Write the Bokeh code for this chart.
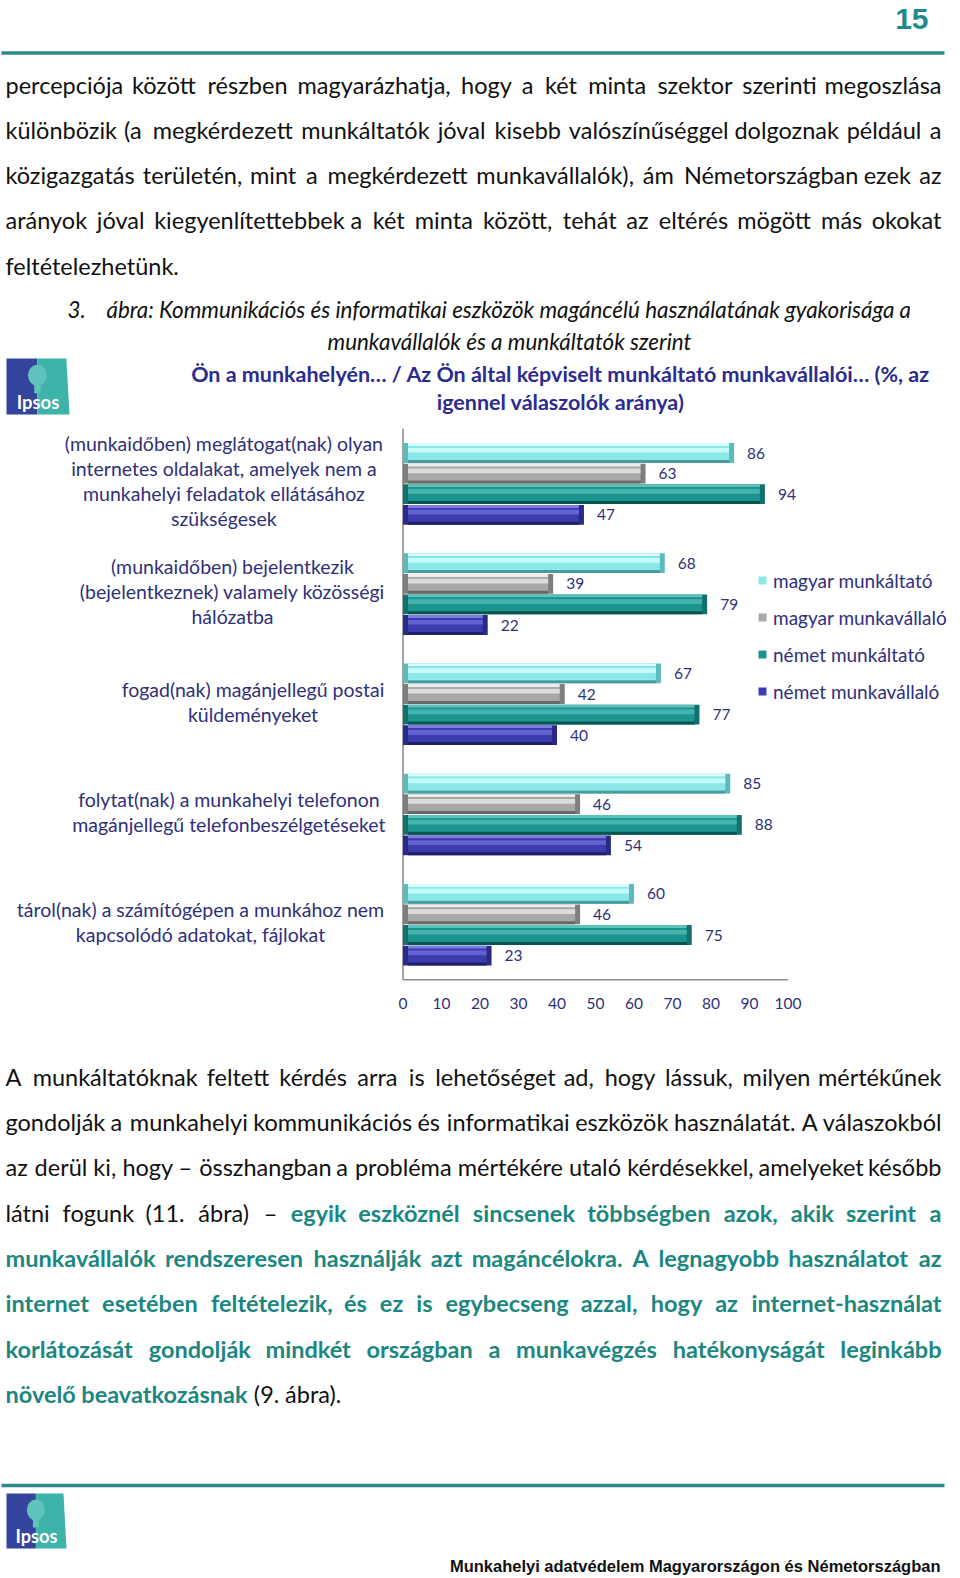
import unicodedata
from bokeh.plotting import figure
from bokeh.models import (Range1d, ColumnDataSource, LabelSet, Legend, LegendItem, FixedTicker)
from bokeh.layouts import column
from bokeh.core.properties import value
from bokeh.embed import file_html
from bokeh.resources import INLINE

# ------------------------------------------------------------------ data
series_names = ["magyar munkáltató", "magyar munkavállaló", "német munkáltató", "német munkavállaló"]
category_lines = [
    ["(munkaidőben) meglátogat(nak) olyan", "internetes oldalakat, amelyek nem a",
     "munkahelyi feladatok ellátásához", "szükségesek"],
    ["(munkaidőben) bejelentkezik", "(bejelentkeznek) valamely közösségi", "hálózatba"],
    ["fogad(nak) magánjellegű postai", "küldeményeket"],
    ["folytat(nak) a munkahelyi telefonon", "magánjellegű telefonbeszélgetéseket"],
    ["tárol(nak) a számítógépen a munkához nem", "kapcsolódó adatokat, fájlokat"],
]
categories = [" ".join(l) for l in category_lines]
hu_employer = [86, 68, 67, 85, 60]
hu_employee = [63, 39, 42, 46, 46]
de_employer = [94, 79, 77, 88, 75]
de_employee = [47, 22, 40, 54, 23]
series_values = [hu_employer, hu_employee, de_employer, de_employee]
x_ticks = [0, 10, 20, 30, 40, 50, 60, 70, 80, 90, 100]

page_number = "15"
para1 = [
    "percepciója között részben magyarázhatja, hogy a két minta szektor szerinti megoszlása",
    "különbözik (a megkérdezett munkáltatók jóval kisebb valószínűséggel dolgoznak például a",
    "közigazgatás területén, mint a megkérdezett munkavállalók), ám Németországban ezek az",
    "arányok jóval kiegyenlítettebbek a két minta között, tehát az eltérés mögött más okokat",
    "feltételezhetünk.",
]
caption_num = "3."
caption_1 = "ábra: Kommunikációs és informatikai eszközök magáncélú használatának gyakorisága a"
caption_2 = "munkavállalók és a munkáltatók szerint"
subtitle_1 = "Ön a munkahelyén… / Az Ön által képviselt munkáltató munkavállalói… (%, az"
subtitle_2 = "igennel válaszolók aránya)"
para2 = [
    [("n", "A munkáltatóknak feltett kérdés arra is lehetőséget ad, hogy lássuk, milyen mértékűnek")],
    [("n", "gondolják a munkahelyi kommunikációs és informatikai eszközök használatát. A válaszokból")],
    [("n", "az derül ki, hogy – összhangban a probléma mértékére utaló kérdésekkel, amelyeket később")],
    [("n", "látni fogunk (11. ábra) –"), ("t", "egyik eszköznél sincsenek többségben azok, akik szerint a")],
    [("t", "munkavállalók rendszeresen használják azt magáncélokra. A legnagyobb használatot az")],
    [("t", "internet esetében feltételezik, és ez is egybecseng azzal, hogy az internet-használat")],
    [("t", "korlátozását gondolják mindkét országban a munkavégzés hatékonyságát leginkább")],
    [("t", "növelő beavatkozásnak"), ("n", "(9. ábra).")],
]
footer_text = "Munkahelyi adatvédelem Magyarországon és Németországban"

# ------------------------------------------------------------------ style
FONT = "Lato"
NARROW = "Liberation Sans Narrow, Liberation Sans"
TEAL = "#1B8780"
TEAL_LINE = "#2A8A88"
NAVY_TXT = "#30307A"
SUB_BLUE = "#2B2B90"
W = 960
bar_cols = [  # end, top-facet, face, bottom-facet, stripe
    ("#5DBABA", "#D8FFFF", "#8CE8E8", "#4A9C9C", "#C4FAFA"),
    ("#7E7E7E", "#EDEDED", "#A8A8A8", "#686868", "#DCDCDC"),
    ("#12716D", "#5CC2BC", "#1C948F", "#0C5350", "#45B3AD"),
    ("#2A2A86", "#7C7CE2", "#3C3CAC", "#20206A", "#6262D2"),
]

_CW = {'a': .50, 'b': .55, 'c': .45, 'd': .55, 'e': .51, 'f': .32, 'g': .50, 'h': .55, 'i': .23,
       'j': .23, 'k': .49, 'l': .23, 'm': .83, 'n': .55, 'o': .55, 'p': .55, 'q': .55, 'r': .36,
       's': .42, 't': .35, 'u': .55, 'v': .49, 'w': .75, 'x': .48, 'y': .49, 'z': .44, ' ': .19,
       ',': .22, '.': .22, '(': .30, ')': .30, '–': .58, '-': .33, ':': .25, '/': .37, '%': .80}


def est(word, size, bold):
    t = 0.0
    for ch in word:
        b = unicodedata.normalize('NFD', ch)[0]
        if b.isdigit():
            w = .58
        elif b.isupper():
            w = {'I': .27, 'M': .85, 'A': .68}.get(b, .66)
        else:
            w = _CW.get(b, .5)
        t += w
    return t * size * (1.04 if bold else 1.0)


def new_text_fig(h, y_top):
    f = figure(width=W, height=h, x_range=Range1d(0, W), y_range=Range1d(y_top + h, y_top),
               output_backend="svg", toolbar_location=None, min_border=0, frame_align=False)
    f.axis.visible = False
    f.grid.visible = False
    f.outline_line_color = None
    return f


def draw_par(f, lines, left, right, y0, dy, size, styles, justify_last=False):
    buckets = {}
    for li, segs in enumerate(lines):
        y = y0 + li * dy
        words = [(st, w) for st, txt in segs for w in txt.split()]
        widths = [est(w, size, styles[st][1]) for st, w in words]
        n = len(words)
        justify = (li < len(lines) - 1) or justify_last
        gap = (right - left - sum(widths)) / (n - 1) if (justify and n > 1) else size * 0.23
        x = left
        for k, ((st, w), wd) in enumerate(zip(words, widths)):
            if justify and n > 1 and k == n - 1:
                key, xx = (st, "right"), right
            else:
                key, xx = (st, "left"), x
            b = buckets.setdefault(key, ([], [], []))
            b[0].append(xx); b[1].append(y); b[2].append(w)
            x += wd + gap
    for (st, al), (xs, ys, ts) in buckets.items():
        col, bold = styles[st]
        f.text(x=xs, y=ys, text=ts, text_font=value(FONT), text_font_size=f"{size}px",
               text_font_style="bold" if bold else "normal", text_color=col,
               text_align=al, text_baseline="middle")


def draw_logo(f, x0, y0, w, h):
    xm = x0 + w * 0.49
    f.quad(left=[x0], right=[xm], top=[y0], bottom=[y0 + h], fill_color="#34449C", line_color=None)
    f.patch(x=[xm, x0 + w * 0.95, x0 + w, xm], y=[y0, y0, y0 + h, y0 + h], fill_color="#3DB3AA",
            line_color=None)
    f.ellipse(x=[xm], y=[y0 + h * 0.3], width=w * 0.3, height=h * 0.38, fill_color="#5FC3BA",
              line_color=None)
    f.quad(left=[xm - w * 0.05], right=[xm + w * 0.05], top=[y0 + h * 0.4], bottom=[y0 + h * 0.62],
           fill_color="#5FC3BA", line_color=None)
    f.text(x=[x0 + w * 0.5], y=[y0 + h * 0.78], text=["Ipsos"], text_font=value(FONT),
           text_font_size=f"{h * 0.33:.1f}px", text_font_style="bold", text_color="white",
           text_align="center", text_baseline="middle")


# ------------------------------------------------------------------ top part (page y 0..420)
TOP_H = 420
top = new_text_fig(TOP_H, 0)
top.text(x=[928], y=[18], text=[page_number], text_font=value(NARROW), text_font_size="30px",
         text_font_style="bold", text_color="#1E8A8A", text_align="right", text_baseline="middle")
top.segment(x0=[1], y0=[52.5], x1=[944], y1=[52.5], line_color=TEAL_LINE, line_width=3.5)
draw_par(top, [[("n", t)] for t in para1], 5, 941, 84, 45.3, 23.5, {"n": ("#111111", False)})
top.text(x=[67], y=[308.5], text=[caption_num], text_font=value(FONT), text_font_size="22.4px",
         text_font_style="italic", text_color="#111111", text_align="left", text_baseline="middle")
top.text(x=[106], y=[308.5], text=[caption_1], text_font=value(FONT), text_font_size="22.4px",
         text_font_style="italic", text_color="#111111", text_align="left", text_baseline="middle")
top.text(x=[509], y=[340.5], text=[caption_2], text_font=value(FONT), text_font_size="22.4px",
         text_font_style="italic", text_color="#111111", text_align="center", text_baseline="middle")
top.text(x=[560, 560], y=[373.5, 401], text=[subtitle_1, subtitle_2], text_font=value(FONT),
         text_font_size="21.5px", text_font_style="bold", text_color=SUB_BLUE, text_align="center",
         text_baseline="middle")
draw_logo(top, 6, 358, 63, 56)

# ------------------------------------------------------------------ chart (page y 420..1030)
CH_Y, CH_H = 420, 610
AX_X0, PXU_X = 402.5, 3.85          # page x of value 0, pixels per percent
AX_Y0, PXU_Y = 979.3, 110.2         # page y of the category baseline, pixels per category
FRAME_BOTTOM = 982                  # page y where the plotting frame ends
FR_B = CH_Y + CH_H - FRAME_BOTTOM

ch = figure(width=W, height=CH_H,
            x_range=Range1d(-AX_X0 / PXU_X, (W - AX_X0) / PXU_X),
            y_range=Range1d(-(FRAME_BOTTOM - AX_Y0) / PXU_Y, (AX_Y0 - CH_Y) / PXU_Y),
            output_backend="svg", toolbar_location=None, min_border_left=0, min_border_right=0,
            min_border_top=0, min_border_bottom=FR_B, frame_align=False)
ch.grid.visible = False
ch.outline_line_color = None
ch.yaxis.visible = False
ch.xaxis.ticker = FixedTicker(ticks=x_ticks)
ch.xaxis.axis_line_color = None
ch.xaxis.major_tick_line_color = None
ch.xaxis.minor_tick_line_color = None
ch.xaxis.major_tick_out = 0
ch.xaxis.major_tick_in = 0
ch.xaxis.major_label_standoff = 15
ch.xaxis.major_label_text_font = FONT
ch.xaxis.major_label_text_font_size = "15.5px"
ch.xaxis.major_label_text_color = NAVY_TXT

n_cat = len(categories)
# axis lines (value axis baseline from 0 to 100, category axis at 0)
ch.segment(x0=[x_ticks[0], 0], y0=[0, 0], x1=[x_ticks[-1], 0], y1=[0, n_cat],
           line_color="#8E8E8E", line_width=1.6)

slot = 20.6 / PXU_Y
bh = 19.8 / PXU_Y
bx = 5.0 / PXU_X
bv = 3.0 / PXU_Y
legend_items = []
lab_x, lab_y, lab_t = [], [], []
for k, (name, vals, cols) in enumerate(zip(series_names, series_values, bar_cols)):
    yc = [n_cat - 0.5 - i + (1.5 - k) * slot for i in range(n_cat)]
    end_c, top_c, face_c, bot_c, stripe_c = cols
    src = ColumnDataSource(dict(
        v=vals, zero=[0] * n_cat, yc=yc,
        top=[y + bh / 2 for y in yc], bot=[y - bh / 2 for y in yc],
        il=[bx] * n_cat, ir=[max(v - bx, bx) for v in vals],
        ft=[y + bh / 2 - bv for y in yc], fb=[y - bh / 2 + bv for y in yc],
        st=[y + bh / 2 - bv * 1.6 for y in yc], sb=[y + bh * 0.02 for y in yc],
    ))
    ch.quad(left="zero", right="v", top="top", bottom="bot", source=src, fill_color=end_c,
            line_color=None)
    ch.quad(left="il", right="ir", top="top", bottom="ft", source=src, fill_color=top_c,
            line_color=None)
    ch.quad(left="il", right="ir", top="fb", bottom="bot", source=src, fill_color=bot_c,
            line_color=None)
    face = ch.quad(left="il", right="ir", top="ft", bottom="fb", source=src, fill_color=face_c,
                   line_color=None)
    ch.quad(left="il", right="ir", top="st", bottom="sb", source=src, fill_color=stripe_c,
            line_color=None)
    legend_items.append(LegendItem(label=name, renderers=[face]))
    lab_x += vals
    lab_y += yc
    lab_t += [str(v) for v in vals]

ch.add_layout(LabelSet(x="x", y="y", text="t", source=ColumnDataSource(dict(x=lab_x, y=lab_y, t=lab_t)),
                       x_offset=13, text_font=value(FONT), text_font_size="15.5px",
                       text_color=NAVY_TXT, text_align="left", text_baseline="middle"))

# category labels (centred lines, block placed left of the axis)
cat_center_page_x = [223.4, 232.0, 252.5, 228.4, 200.0]
line_gap = 25.0 / PXU_Y
lift = 2.5 / PXU_Y
cx, cy, ct = [], [], []
for i, lines in enumerate(category_lines):
    for j, ln in enumerate(lines):
        cx.append((cat_center_page_x[i] - AX_X0) / PXU_X)
        cy.append(n_cat - 0.5 - i - (j - (len(lines) - 1) / 2.0) * line_gap + lift)
        ct.append(ln)
ch.text(x=cx, y=cy, text=ct, text_font=value(FONT), text_font_size="19.5px", text_color=NAVY_TXT,
        text_align="center", text_baseline="middle")

legend = Legend(items=legend_items, location=(757, FRAME_BOTTOM - 703), padding=0, margin=0,
                spacing=13, label_height=24, glyph_height=10, glyph_width=10, label_standoff=6,
                border_line_color=None, background_fill_alpha=0, label_text_font=FONT,
                label_text_font_size="19px", label_text_color=NAVY_TXT)
ch.add_layout(legend)

# ------------------------------------------------------------------ bottom part (page y 1030..1578)
BOT_Y = CH_Y + CH_H
BOT_H = 1578 - BOT_Y
bot = new_text_fig(BOT_H, BOT_Y)
draw_par(bot, para2, 5, 941, 1076.2, 45.3, 23.5, {"n": ("#111111", False), "t": (TEAL, True)})
bot.segment(x0=[1], y0=[1485], x1=[944], y1=[1485], line_color=TEAL_LINE, line_width=3.5)
draw_logo(bot, 6, 1493, 60, 55)
bot.text(x=[940], y=[1565], text=[footer_text], text_font=value(NARROW), text_font_size="16.5px",
         text_font_style="bold", text_color="#111111", text_align="right", text_baseline="middle")

page = column(top, ch, bot, spacing=0)
open("out.html", "w").write(file_html(page, INLINE))
